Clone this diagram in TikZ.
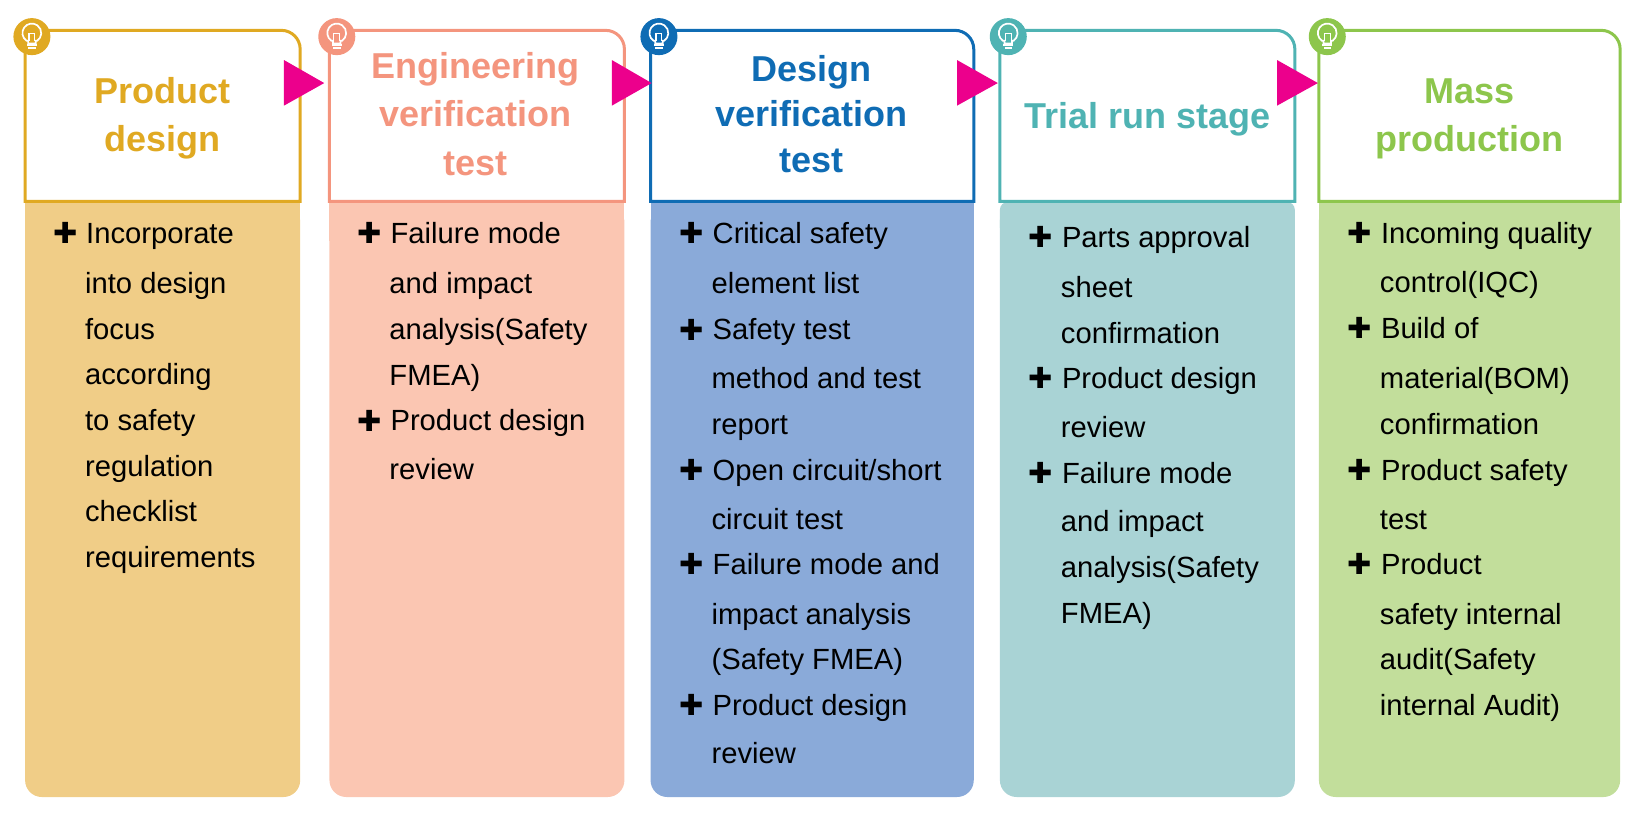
\documentclass[tikz,border=0pt]{standalone}
\usepackage{fontspec}
\setmainfont{Liberation Sans}
\newfontfamily\symfont{DejaVu Sans}
\definecolor{ca}{HTML}{E0A922}\definecolor{pa}{HTML}{F0CD87}
\definecolor{cb}{HTML}{F4957E}\definecolor{pb}{HTML}{FBC6B2}
\definecolor{cc}{HTML}{0F6CB4}\definecolor{pc}{HTML}{8AAAD9}
\definecolor{cd}{HTML}{4FB3B3}\definecolor{pd}{HTML}{A9D3D5}
\definecolor{ce}{HTML}{8DC64C}\definecolor{pe}{HTML}{C2DE9B}
\definecolor{pinkarrow}{HTML}{EC008C}
\tikzset{
  x=0.523pt,y=-0.523pt,
  bodytext/.style={anchor=base west,inner sep=0pt,yshift=-0.5pt,font=\fontsize{14.6pt}{16pt}\selectfont,text=black},
  plusmark/.style={anchor=center,inner sep=0pt,xshift=0.5pt,yshift=-0.5pt,font=\symfont\fontsize{14.5pt}{16pt}\selectfont,text=black},
  titletext/.style={anchor=base,inner sep=0pt,yshift=-0.4pt,font=\bfseries\fontsize{18pt}{20pt}\selectfont},
  header/.style={draw=#1,line width=1.5pt,fill=white},
  panel/.style={fill=#1,draw=none},
  flow/.style={fill=pinkarrow,draw=none},
  pics/bulb/.style={code={
    \fill[#1] (0,0) circle[radius=17.7];
    \draw[white,line width=0.85pt] (-3.6,6.6) -- (-3.6,3.9) -- (-5.2,3.9) arc[start angle=125,end angle=415,radius=9] -- (3.6,3.9) -- (3.6,6.6) -- cycle;
    \draw[white,line width=0.6pt] (-2.8,4) -- (-2.8,-3) -- (2.8,-3) -- (2.8,4);
    \fill[white] (-4.6,7.4) rectangle (4.6,9.2);
    \fill[white] (-3.6,10.2) rectangle (3.6,12);
  }}
}
\newcommand{\column}[7]{%
  % #1 name, #2 line colour, #3 panel colour, #4 left, #5 right, #6 bulb offset, #7 top corner radius of the panel
  \fill[panel=#3] (#4,210) -- (#5,210) -- (#5,746) arc[start angle=0,end angle=90,radius=16] -- (#4+16,762) arc[start angle=90,end angle=180,radius=16] -- cycle;
  \fill[panel=#3,rounded corners=#7] (#4,225) -- (#4,193) -- (#5,193) -- (#5,225) -- cycle;
  \fill[panel=#3] (#4,215) rectangle (#5,230);
  \draw[header=#2] (#4,192.5) -- (#4,29) -- (#5-18,29) arc[start angle=270,end angle=360,radius=18] -- (#5,192.5) -- cycle;
  \pic at (#4+#6,35) {bulb=#2};
}
\begin{document}
\begin{tikzpicture}
\useasboundingbox (0,0) rectangle (1568,777.3);
\column{a}{ca}{pa}{24}{287}{6.5}{0pt}
\column{b}{cb}{pb}{315}{597}{7}{0pt}
\column{c}{cc}{pc}{622}{931}{8}{0pt}
\column{d}{cd}{pd}{956}{1238}{8}{4pt}
\column{e}{ce}{pe}{1261}{1549}{8}{0pt}
% flow triangles
\fill[flow] (271.5,57.4) -- (271.5,101) -- (310,79.4) -- cycle;
\fill[flow] (585,57.4) -- (585,101) -- (623,79.4) -- cycle;
\fill[flow] (915,57.4) -- (915,101) -- (954,79.4) -- cycle;
\fill[flow] (1221,57.4) -- (1221,101) -- (1260,79.4) -- cycle;
% titles
\foreach \y/\t [count=\i] in {98/Product,144/design}
  \node[titletext,text=ca] (ta\i) at (155,\y) {\t};
\foreach \y/\t [count=\i] in {74/Engineering,120/verification,167/test}
  \node[titletext,text=cb] (tb\i) at (455,\y) {\t};
\foreach \y/\t [count=\i] in {77/Design,120/verification,164/test}
  \node[titletext,text=cc] (tc\i) at (776,\y) {\t};
\node[titletext,text=cd] (td1) at (1097,122) {Trial run stage};
\foreach \y/\t [count=\i] in {98/Mass,144/production}
  \node[titletext,text=ce] (te\i) at (1405,\y) {\t};
% body column 1
\foreach \y in {222} \node[plusmark] (pa\y) at (62,\y) {✚};
\node[bodytext] (la0) at (82,232) {Incorporate};
\foreach \y/\t [count=\i] in {280/into design,324/focus,367/according,411/to safety,455/regulation,498/checklist,542/requirements}
  \node[bodytext] (la\i) at (81,\y) {\t};
% body column 2
\foreach \y in {222,401} \node[plusmark] (pb\y) at (352,\y) {✚};
\foreach \y/\t [count=\i] in {232/Failure mode,411/Product design}
  \node[bodytext] (lbh\i) at (373,\y) {\t};
\foreach \y/\t [count=\i] in {280/and impact,324/{analysis(Safety},368/FMEA),457/review}
  \node[bodytext] (lb\i) at (372,\y) {\t};
% body column 3
\foreach \y in {222,314,448,538,673} \node[plusmark] (pc\y) at (660,\y) {✚};
\foreach \y/\t [count=\i] in {232/Critical safety,324/Safety test,458/{Open circuit/short},548/Failure mode and,683/Product design}
  \node[bodytext] (lch\i) at (681,\y) {\t};
\foreach \y/\t [count=\i] in {280/element list,370/method and test,414/report,505/circuit test,596/impact analysis,639/{(Safety FMEA)},729/review}
  \node[bodytext] (lc\i) at (680,\y) {\t};
% body column 4
\foreach \y in {226,360,451} \node[plusmark] (pd\y) at (994,\y) {✚};
\foreach \y/\t [count=\i] in {236/Parts approval,370/Product design,461/Failure mode}
  \node[bodytext] (ldh\i) at (1015,\y) {\t};
\foreach \y/\t [count=\i] in {283/sheet,327/confirmation,417/review,507/and impact,551/{analysis(Safety},595/FMEA)}
  \node[bodytext] (ld\i) at (1014,\y) {\t};
% body column 5
\foreach \y in {222,313,448,538} \node[plusmark] (pe\y) at (1299,\y) {✚};
\foreach \y/\t [count=\i] in {232/Incoming quality,323/Build of,458/Product safety,548/Product}
  \node[bodytext] (leh\i) at (1320,\y) {\t};
\foreach \y/\t [count=\i] in {279/control(IQC),370/material(BOM),414/confirmation,505/test,596/safety internal,639/{audit(Safety},683/{internal Audit)}}
  \node[bodytext] (le\i) at (1319,\y) {\t};
\end{tikzpicture}
\end{document}
